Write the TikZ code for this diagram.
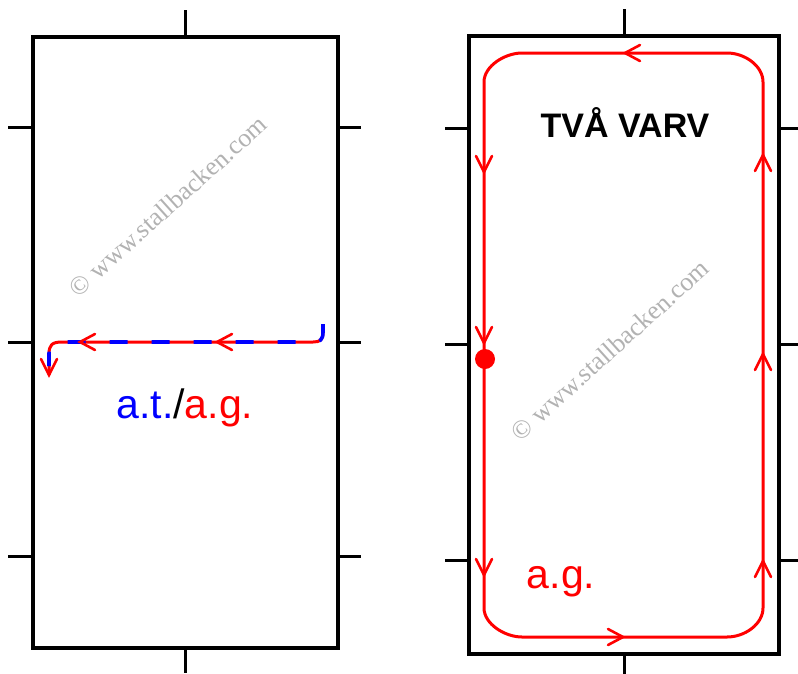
\documentclass[tikz,border=0pt]{standalone}
\usepackage{fontspec}
\setmainfont{Liberation Sans}
\newfontfamily\wmfont{Liberation Serif}
\begin{document}
\begin{tikzpicture}[x=1pt,y=-1pt,
  frame/.style={draw=black, line width=3.5pt, inner sep=0pt, fill=none},
  tickline/.style={black, line width=3pt},
  track/.style={red, line width=3pt, line join=round},
  blued/.style={blue, line width=3.6pt, dash pattern=on 18pt off 24pt},
  headstyle/.style={red, line width=2.6pt, line cap=round, line join=miter},
  ahl/.pic={\draw[headstyle] (15,-8) -- (0,0) -- (15,8);},
  ahr/.pic={\draw[headstyle] (-15,-8) -- (0,0) -- (-15,8);},
  ahd/.pic={\draw[headstyle] (-8,-16) -- (0,0) -- (8,-16);},
  ahu/.pic={\draw[headstyle] (-8,16) -- (0,0) -- (8,16);},
  wm/.style={text=black!30, font=\wmfont\fontsize{26}{30}\selectfont, rotate=42, inner sep=0pt}
  ]
\useasboundingbox (0,0) rectangle (798,673);

% ---------- left arena ----------
\node[frame, minimum width=305pt, minimum height=611pt] (arenaL) at (185.5,342.5) {};
\draw[tickline] (arenaL.north) -- ++(0,-25);
\draw[tickline] (arenaL.south) -- ++(0,23);
\foreach \yy in {127,342,556}{
  \draw[tickline] (33,\yy) -- (8,\yy);
  \draw[tickline] (338,\yy) -- (361,\yy);
}
\node[wm] (wmL) at (168,206) {© www.stallbacken.com};

\coordinate (lstart) at (323,324);
\coordinate (lend) at (49,375);
\draw[track] (lstart) -- (323,332) .. controls (323,340) and (320,342) .. (313,342)
   -- (62,342) .. controls (52,342) and (49,345) .. (49,354) -- (lend);
\draw[blued] (lstart) -- (323,332) .. controls (323,340) and (320,342) .. (313,342)
   -- (62,342) .. controls (52,342) and (49,345) .. (49,354) -- (49,366);
\pic at (217,342) {ahl};
\pic at (80,342) {ahl};
\pic at (lend) {ahd};
\node[anchor=base, inner sep=0pt, font=\fontsize{41}{48}\selectfont] (labL) at (185,418)
  {\textcolor{blue}{a.t.}/\textcolor{red}{a.g.}};

% ---------- right arena ----------
\node[frame, minimum width=310pt, minimum height=618pt] (arenaR) at (624,345) {};
\draw[tickline] (arenaR.north) -- ++(0,-25);
\draw[tickline] (arenaR.south) -- ++(0,22);
\foreach \yy in {128,344,560}{
  \draw[tickline] (469,\yy) -- (445,\yy);
  \draw[tickline] (779,\yy) -- (800,\yy);
}
\node[wm] (wmR) at (610,350) {© www.stallbacken.com};

\coordinate (tl) at (484,82);
\coordinate (bl) at (484,608);
\coordinate (br) at (763,608);
\coordinate (tr) at (763,82);
\draw[track] (tl) -- (bl) .. controls (484,624) and (505,637) .. (522,637)
  -- (727,637) .. controls (745,637) and (763,624) .. (br)
  -- (tr) .. controls (763,66) and (745,53) .. (727,53)
  -- (522,53) .. controls (505,53) and (484,66) .. (tl) -- cycle;
\fill[red] (485,359) circle[radius=10pt];
\pic at (625,53) {ahl};
\pic at (484,172) {ahd};
\pic at (484,343) {ahd};
\pic at (484,575) {ahd};
\pic at (623,637) {ahr};
\pic at (763,561) {ahu};
\pic at (763,354) {ahu};
\pic at (763,155) {ahu};
\node[anchor=base, inner sep=0pt, font=\bfseries\fontsize{34}{40}\selectfont] (title) at (625,137) {TVÅ VARV};
\node[anchor=base, inner sep=0pt, text=red, font=\fontsize{41}{48}\selectfont] (labR) at (561,588) {a.g.};
\end{tikzpicture}
\end{document}
